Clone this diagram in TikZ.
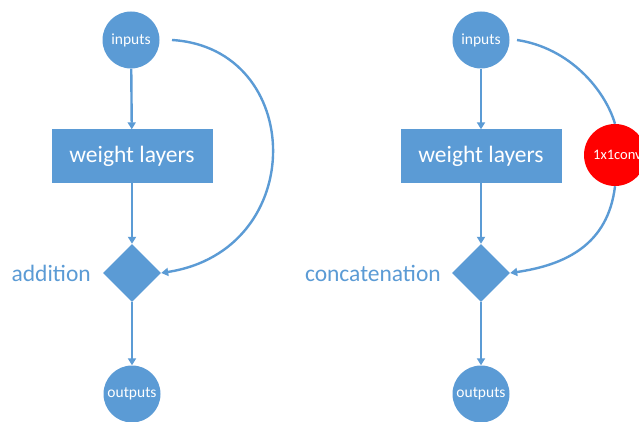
\documentclass[tikz,border=0pt]{standalone}
\usepackage{fontspec}
\setmainfont{Carlito}
\usetikzlibrary{shapes.geometric,arrows.meta}
\definecolor{nodeblue}{HTML}{5B9BD5}
\definecolor{convred}{HTML}{FF0000}
\tikzset{
  circnode/.style={circle,fill=nodeblue,draw=none,minimum size=57pt,inner sep=0pt,
    text=white,font=\fontsize{15.5}{18}\selectfont},
  layerbox/.style={rectangle,fill=nodeblue,draw=none,minimum width=161pt,minimum height=53pt,
    text=white,font=\fontsize{23.5}{28}\selectfont},
  mergenode/.style={diamond,fill=nodeblue,draw=none,aspect=1,minimum width=58pt,
    minimum height=58pt,inner sep=0pt},
  opnode/.style={text=nodeblue,font=\fontsize{23.5}{28}\selectfont,anchor=east,inner sep=0pt},
  convnode/.style={circle,fill=convred,draw=none,minimum size=62pt,inner sep=0pt,
    text=white,font=\fontsize{14.5}{17}\selectfont},
  flow/.style={draw=nodeblue,line width=2.4pt,-{Triangle[length=7pt,width=8pt]}},
  plain/.style={draw=nodeblue,line width=2.4pt}
}
\begin{document}
\begin{tikzpicture}[x=1pt,y=-1pt]
\useasboundingbox[fill=white] (0,0) rectangle (639,422);

% residual block with addition
\node[circnode] (in1) at (131,40) {inputs};
\node[layerbox] (w1) at (132,156) {weight layers};
\node[mergenode] (m1) at (132,273) {};
\node[circnode] (out1) at (132,394) {outputs};
\node[opnode] (lab1) at (91,273) {addition};
\coordinate (s1) at (172,40);

\draw[flow] (in1) -- (w1);
\draw[flow] (w1) -- (m1);
\draw[flow] (m1) -- (out1);
\draw[flow] (s1) .. controls (305,48) and (310,250) .. (m1.east);

% block with 1x1 convolution and concatenation
\node[circnode] (in2) at (481,40) {inputs};
\node[layerbox] (w2) at (481,156) {weight layers};
\node[mergenode] (m2) at (481,273) {};
\node[circnode] (out2) at (481,394) {outputs};
\node[opnode] (lab2) at (441,273) {concatenation};
\node[convnode] (conv) at (615,155) {};
\node[text=white,font=\fontsize{14.5}{17}\selectfont,anchor=west,inner sep=0pt] (convlab) at (593,155) {1x1conv};
\coordinate (s2) at (517,40);

\draw[flow] (in2) -- (w2);
\draw[flow] (w2) -- (m2);
\draw[flow] (m2) -- (out2);
\draw[plain] (s2) .. controls (570,48) and (605,90) .. (conv.north);
\draw[flow] (conv.south) .. controls (608,245) and (565,265) .. (m2.east);
\end{tikzpicture}
\end{document}
